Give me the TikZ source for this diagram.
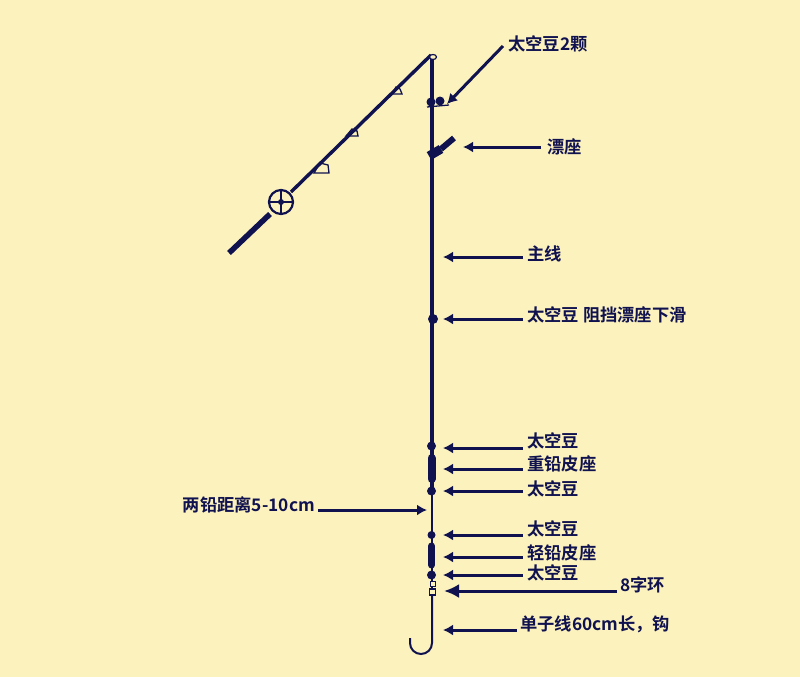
\documentclass[tikz,border=0pt]{standalone}
\usepackage{fontspec}
\setmainfont{Noto Sans CJK SC}[BoldFont={Noto Sans CJK SC Bold}]
\usetikzlibrary{positioning,arrows.meta,shapes.geometric}
\definecolor{paper}{HTML}{FBF2BE}
\definecolor{ink}{HTML}{10124F}

\begin{document}
\begin{tikzpicture}[x=1pt,y=-1pt]
\tikzset{
  lab/.style={anchor=west,inner sep=0pt,text=ink,font=\bfseries\fontsize{17.3}{18}\selectfont},
  ptr/.style={draw=ink,line width=3pt,-{Latex[length=10pt,width=11pt]}},
  bigptr/.style={draw=ink,line width=3pt,-{Latex[length=15pt,width=14pt]}},
  line/.style={draw=ink,line width=3.2pt},
  thin line/.style={draw=ink,line width=2pt},
  bead/.style={fill=ink,circle,inner sep=0pt,minimum size=#1},
  guide/.style={draw=ink,line width=1.3pt,fill=paper}
}
\fill[paper] (0,0) rectangle (800,677);
\useasboundingbox (0,0) rectangle (800,677);

% guides
\draw[guide] (314,173) -- (329,173) -- (328,165) -- (320,163) -- cycle;
\draw[guide] (346,136) -- (358,136) -- (357,131) -- (352,129) -- cycle;
\draw[guide] (392,94) -- (402,94) -- (400,89) -- (396,87) -- cycle;
% rod
\coordinate (rodend) at (229,253);
\coordinate (reelp) at (281,202);
\coordinate (rodtip) at (431,55);
\draw[draw=ink,line width=5.5pt] (rodend) -- (270,214);
\draw[draw=ink,line width=3.4pt] (291,192) -- (rodtip);
% reel
\node[circle,draw=ink,line width=2.2pt,minimum size=24pt,inner sep=0pt] (reel) at (reelp) {};
\draw[draw=ink,line width=1.2pt] (reel.west) -- (reel.east) (reel.north) -- (reel.south);
\node[bead=6pt] (hub) at (reelp) {};

% main line
\coordinate (top) at (432,57);
\coordinate (lowa) at (432,490);
\coordinate (lowb) at (432,590);
\coordinate (hooka) at (432,643);
\coordinate (hookb) at (410,638);
\draw[line] (top) -- (lowa);
\draw[thin line] (lowa) -- (lowb);
\draw[thin line] (432,596) -- (hooka) arc[start angle=0,end angle=180,radius=11] -- (hookb);
\node[draw=ink,fill=paper,line width=1.2pt,ellipse,minimum width=7pt,minimum height=5pt,inner sep=0pt] (tiploop) at (433,57) {};

% stoppers at the top
\node[bead=9pt] (sa) at (431,102) {};
\node[bead=9pt] (sb) at (440,101) {};
\draw[draw=ink,line width=1.3pt] (427,107) -- (449,105);
% float seat
\draw[draw=ink,line width=9pt] (429,156) -- (441,149);
\draw[draw=ink,line width=6pt] (441,149) -- (454,138);

% beads and sinkers
\node[bead=10pt] (midbead) at (433,319) {};
\foreach \by/\bs in {446/9pt,491/9pt,535/8pt,575/9pt}
  \node[bead=\bs] at (431.5,\by) {};
\draw[draw=ink,line width=8pt,line cap=round] (431.5,458) -- (431.5,479);
\draw[draw=ink,line width=7pt,line cap=round] (431.5,546) -- (431.5,565);
% swivel
\node[draw=ink,fill=paper,line width=1.4pt,minimum size=5pt,inner sep=0pt] (swa) at (433,584) {};
\node[draw=ink,fill=paper,line width=1.4pt,minimum size=6pt,inner sep=0pt] (swb) at (432.5,592) {};

% labels
\node[lab] (lstop) at (508,44) {太空豆2颗};
\node[lab] (lseat) at (547,147) {漂座};
\node[lab] (lmain) at (527,254) {主线};
\node[lab] (lmid) at (527,315) {太空豆 阻挡漂座下滑};
\node[lab] (lb1) at (527,441) {太空豆};
\node[lab] (lheavy) at (527,464) {重铅皮座};
\node[lab] (lb2) at (527,489) {太空豆};
\node[lab,anchor=east] (lgap) at (315,505) {两铅距离5-10cm};
\node[lab] (lb3) at (527,529) {太空豆};
\node[lab] (llight) at (527,553) {轻铅皮座};
\node[lab] (lb4) at (527,573) {太空豆};
\node[lab] (lring) at (620,585) {8字环};
\node[lab] (lhook) at (520,624) {单子线60cm长，钩};

% arrow tips
\coordinate (tstop) at (447,104);
\coordinate (tseat) at (463,147);
\coordinate (tmain) at (443,257);
\coordinate (tmid) at (443,319);
\coordinate (tb1) at (443,448);
\coordinate (theavy) at (443,469);
\coordinate (tb2) at (443,491);
\coordinate (tgap) at (427,510);
\coordinate (tb3) at (443,535);
\coordinate (tlight) at (443,557);
\coordinate (tb4) at (443,575);
\coordinate (tring) at (444,591);
\coordinate (thook) at (443,630);

\draw[ptr] (503,46) -- (tstop);
\draw[ptr] (lseat.west |- tseat) ++(-6,0) -- (tseat);
\foreach \l/\t in {lmain/tmain,lmid/tmid,lb1/tb1,lheavy/theavy,lb2/tb2,lb3/tb3,llight/tlight,lb4/tb4}
  \draw[ptr] (\l.west |- \t) ++(-4,0) -- (\t);
\draw[ptr] (lhook.west |- thook) ++(-3,0) -- (thook);
\draw[ptr] (lgap.east |- tgap) ++(3,0) -- (tgap);
\draw[bigptr] (lring.west |- tring) ++(-3,0) -- (tring);
\end{tikzpicture}
\end{document}
